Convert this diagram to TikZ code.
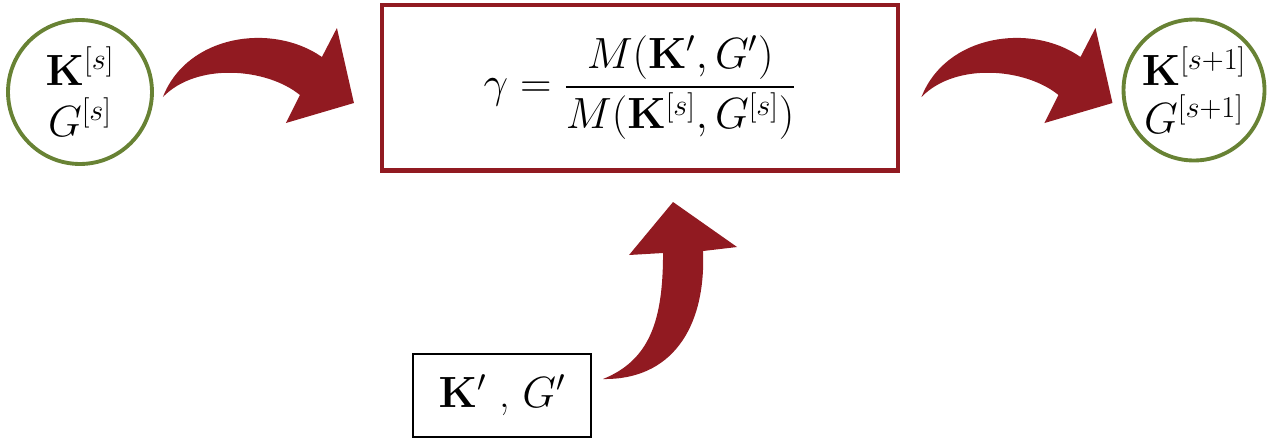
\documentclass[tikz,border=0pt]{standalone}
\usepackage{amsmath}
\usepackage{tikz}
\usetikzlibrary{calc}

\definecolor{arrowred}{RGB}{145,26,33}
\definecolor{ringgreen}{RGB}{104,130,52}

\begin{document}
\begin{tikzpicture}[
            x=0.02cm, y=-0.02cm,
            ring/.style={circle, draw=ringgreen, line width=2.2pt, inner sep=0pt,
                         align=center, font=\fontsize{23.5}{27}\selectfont},
            ratiobox/.style={draw=arrowred, line width=2.3pt, minimum width=10.34cm,
                             minimum height=3.32cm, font=\fontsize{23}{27}\selectfont},
            inbox/.style={draw, line width=1.2pt, minimum width=3.56cm,
                          minimum height=1.66cm, font=\fontsize{24}{28}\selectfont},
            % fat curved arrows, drawn from the tail
            sidearrow/.pic={
                \fill[arrowred] (0,0) .. controls (24,-62) and (109,-75) .. (159,-40)
                    -- (174,-69) -- (191,6) -- (123,26) -- (137,-2)
                    .. controls (104,-29) and (34,-35) .. (0,0) -- cycle;},
            uparrow/.pic={
                \fill[arrowred] (0,0) .. controls (47,-19) and (60,-59) .. (60,-126)
                    -- (26,-124) -- (70,-177) -- (134,-132) -- (100,-128)
                    .. controls (103,-49) and (67,1) .. (0,0) -- cycle;}]

            \useasboundingbox (0,0) rectangle (1280,444);

            \node[ring, minimum size=2.88cm] (old) at (80,92)
                {$\mathbf{K}^{[s]}$\\[2pt]$G^{[s]}$};
            \node[ratiobox] (ratio) at (640,87.5)
                {$\gamma=\dfrac{M(\mathbf{K}',G')}{M(\mathbf{K}^{[s]},G^{[s]})}$};
            \node[ring, minimum size=2.82cm] (new) at (1194,90)
                {$\mathbf{K}^{[s+1]}$\\[0pt]$G^{[s+1]}$};
            \node[inbox] (prop) at (502,395.5) {$\mathbf{K}'$ , $G'$};

            \pic at ($(old.east)+(9,5)$) {sidearrow};
            \pic at ($(ratio.east)+(21,9.5)$) {sidearrow};
            \pic at ($(prop.east)+(11,-16.5)$) {uparrow};
        \end{tikzpicture}
\end{document}
